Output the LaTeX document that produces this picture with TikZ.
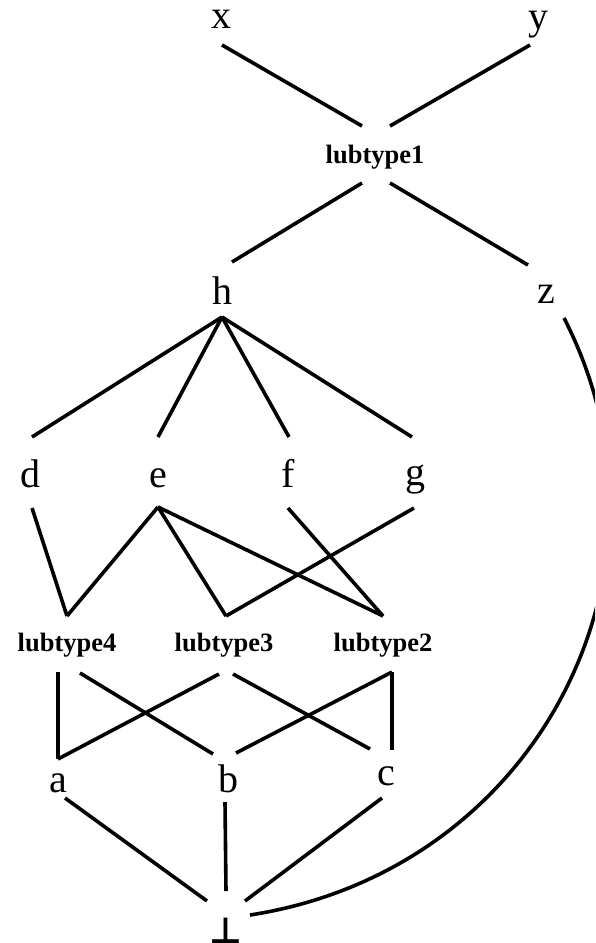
\documentclass[tikz,border=0pt]{standalone}
\usepackage{fontspec}
\setmainfont{Liberation Serif}
\newfontfamily\symfnt{DejaVu Sans}
\usetikzlibrary{calc}
\begin{document}
\begin{tikzpicture}[x=1pt,y=-1pt,
  lbl/.style={anchor=base, inner sep=0pt, font=\fontsize{40}{48}\selectfont},
  lub/.style={anchor=base, inner sep=0pt, font=\fontsize{26.5}{32}\selectfont\bfseries},
  botlbl/.style={anchor=base, inner sep=0pt, font=\fontsize{36}{40}\selectfont\symfnt\bfseries},
  edge/.style={line width=3.6pt}]
\useasboundingbox (0,0) rectangle (595,943);
\clip (0,0) rectangle (595,943);
% nodes
\node[lbl] (x) at (221,28) {x};
\node[lbl] (y) at (538,29) {y};
\node[lub] (lub1) at (375,163) {lubtype1};
\node[lbl] (h) at (222,304) {h};
\node[lbl] (z) at (546,303) {z};
\node[lbl] (d) at (30,487) {d};
\node[lbl] (e) at (158,487) {e};
\node[lbl] (f) at (288,487) {f};
\node[lbl] (g) at (415,485) {g};
\node[lub] (lub4) at (67,651) {lubtype4};
\node[lub] (lub3) at (224,651) {lubtype3};
\node[lub] (lub2) at (383,651) {lubtype2};
\node[lbl] (a) at (58,792) {a};
\node[lbl] (b) at (228,792) {b};
\node[lbl] (c) at (386,785) {c};
\node[botlbl] (bot) at (226,943) {⊥};
% edges
\draw[edge] ($(x.base)+(1,17)$) -- ($(lub1.base)+(-13,-37)$);
\draw[edge] ($(y.base)+(-8,16)$) -- ($(lub1.base)+(15,-37)$);
\draw[edge] ($(lub1.base)+(-13,20)$) -- ($(h.base)+(10,-42)$);
\draw[edge] ($(lub1.base)+(15,20)$) -- ($(z.base)+(-18,-38)$);
\draw[edge] ($(h.base)+(0,13)$) -- ($(d.base)+(2,-50)$);
\draw[edge] ($(h.base)+(0,13)$) -- ($(e.base)+(0,-50)$);
\draw[edge] ($(h.base)+(0,13)$) -- ($(f.base)+(1,-50)$);
\draw[edge] ($(h.base)+(0,13)$) -- ($(g.base)+(-3,-48)$);
\draw[edge] ($(d.base)+(2,21)$) -- ($(lub4.base)+(0,-35)$);
\draw[edge] ($(e.base)+(0,20)$) -- ($(lub4.base)+(0,-35)$);
\draw[edge] ($(e.base)+(0,20)$) -- ($(lub3.base)+(2,-35)$);
\draw[edge] ($(e.base)+(0,20)$) -- ($(lub2.base)+(0,-35)$);
\draw[edge] ($(f.base)+(0,21)$) -- ($(lub2.base)+(0,-35)$);
\draw[edge] ($(g.base)+(-1,23)$) -- ($(lub3.base)+(2,-35)$);
\draw[edge] ($(lub4.base)+(-9,21)$) -- ($(a.base)+(0,-33)$);
\draw[edge] ($(lub3.base)+(-5,23)$) -- ($(a.base)+(0,-33)$);
\draw[edge] ($(lub4.base)+(13,22)$) -- ($(b.base)+(-15,-38)$);
\draw[edge] ($(lub3.base)+(9,23)$) -- ($(c.base)+(-16,-36)$);
\draw[edge] ($(lub2.base)+(9,21)$) -- ($(b.base)+(8,-39)$);
\draw[edge] ($(lub2.base)+(9,21)$) -- ($(c.base)+(6,-35)$);
\draw[edge] ($(a.base)+(7,6)$) -- ($(bot.base)+(-19,-42)$);
\draw[edge] ($(b.base)+(-3,10)$) -- ($(bot.base)+(0,-52)$);
\draw[edge] ($(c.base)+(-4,13)$) -- ($(bot.base)+(19,-42)$);
\draw[edge] ($(z.base)+(18,15)$) .. controls +(128,249) and +(290,-45) .. ($(bot.base)+(24,-28)$);
\end{tikzpicture}
\end{document}
